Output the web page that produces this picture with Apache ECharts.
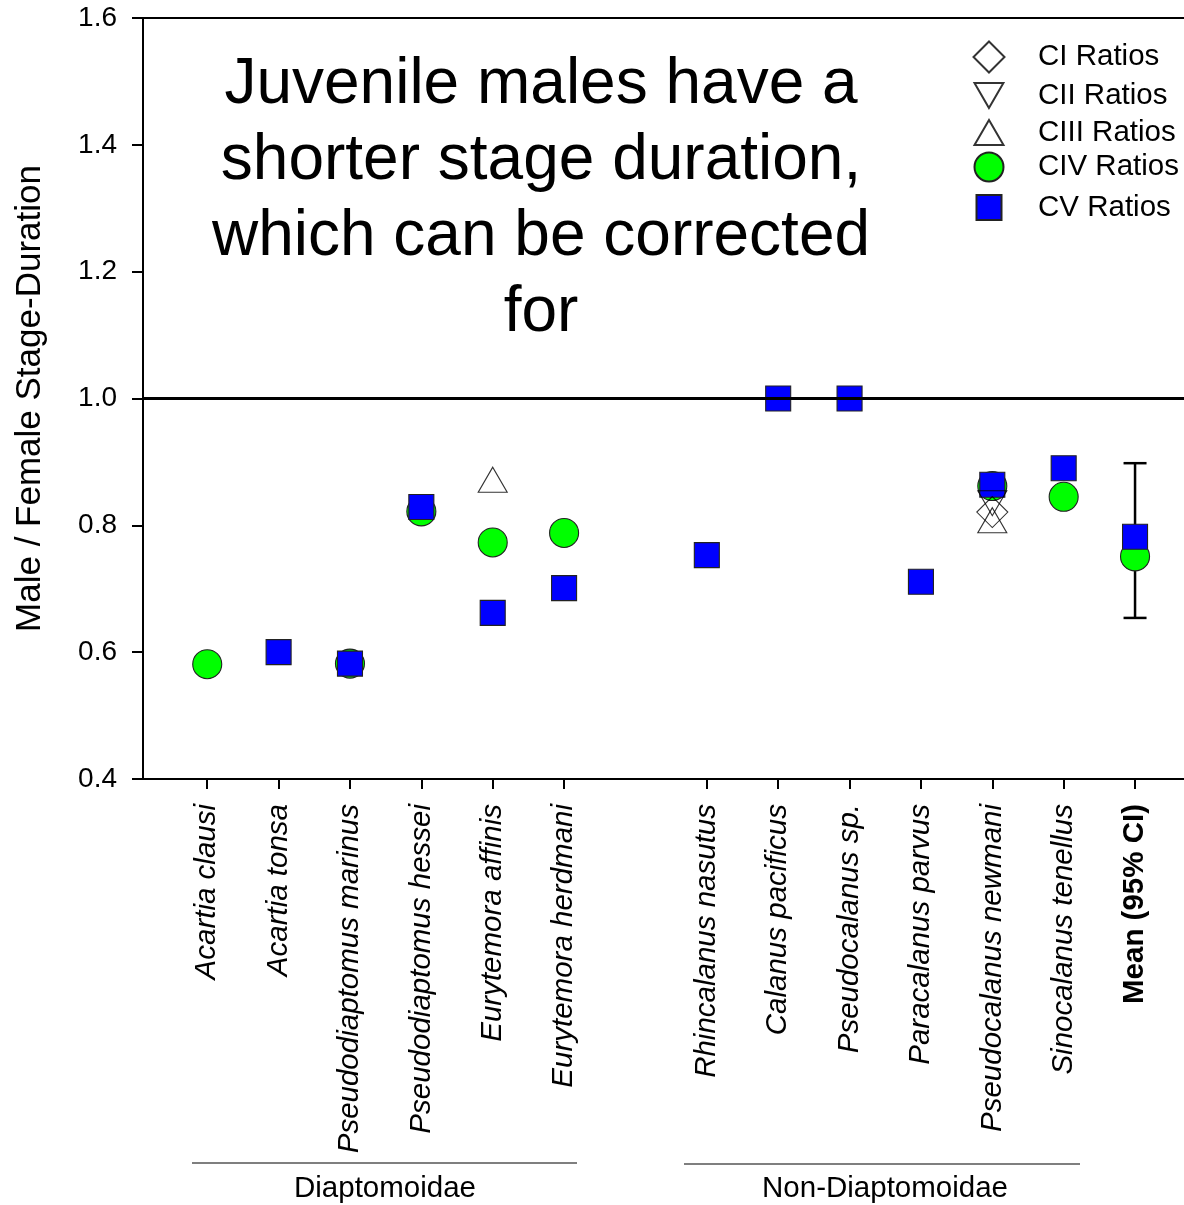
<!DOCTYPE html>
<html>
<head>
<meta charset="utf-8">
<script src="https://cdn.jsdelivr.net/npm/echarts@6/dist/echarts.min.js"></script>
<style>
html,body{margin:0;padding:0;background:#fff;}
#chart{width:1184px;height:1205px;}
</style>
</head>
<body>
<div id="chart"></div>
<script>
// ---------- data ----------
var categories = ['Acartia clausi','Acartia tonsa','Pseudodiaptomus marinus','Pseudodiaptomus hessei','Eurytemora affinis','Eurytemora herdmani','',
  'Rhincalanus nasutus','Calanus pacificus','Pseudocalanus sp.','Paracalanus parvus','Pseudocalanus newmani','Sinocalanus tenellus','Mean (95% CI)'];
var ciRatios   = [null,null,null,null,null,null,null, null,null,null,null,0.821,null,null];
var ciiRatios  = [null,null,null,null,null,null,null, null,null,null,null,0.835,null,null];
var ciiiRatios = [null,null,null,null,0.872,null,null, null,null,null,null,0.808,null,null];
var civRatios  = [0.581,null,0.582,0.822,0.773,0.788,null, null,null,null,null,0.862,0.845,0.751];
var cvRatios   = [null,0.600,0.582,0.829,0.662,0.701,null, 0.753,1.000,1.000,0.711,0.864,0.890,0.782];
var meanCI = [0.654, 0.898];
var yTicks = [0.4,0.6,0.8,1.0,1.2,1.4,1.6];
var referenceLine = 1.0;
var groups = ['Diaptomoidae','Non-Diaptomoidae'];
var titleLines = ['Juvenile males have a','shorter stage duration,','which can be corrected','for'];
var yTitle = 'Male / Female Stage-Duration';
var legendNames = ['CI Ratios','CII Ratios','CIII Ratios','CIV Ratios','CV Ratios'];

// ---------- helpers ----------
var FONT = 'Liberation Sans, Arial, Helvetica, sans-serif';
function pts(arr){
  var out = [];
  arr.forEach(function(v,i){ if(v!==null) out.push([i+1, v]); });
  return out;
}
var catPositions = [];
categories.forEach(function(c,i){ if(c!=='') catPositions.push(i+1); });
var meanPos = categories.length;

var chart = echarts.init(document.getElementById('chart'), null, {renderer:'canvas'});

var DOWN_TRI = 'path://M0,0 L20,0 L10,17.3 Z';
var symbolDefs = {
  'CI Ratios':   {symbol:'diamond',  size:[31,31], hollow:true},
  'CII Ratios':  {symbol:DOWN_TRI,   size:[29,25], hollow:true},
  'CIII Ratios': {symbol:'triangle', size:[29,25], hollow:true},
  'CIV Ratios':  {symbol:'circle',   size:[29,29], color:'#00ff00'},
  'CV Ratios':   {symbol:'rect',     size:[25,25], color:'#0000ff'}
};
var legendRowsY = [56,93,130,166,205];

function scatterSeries(name, arr){
  var d = symbolDefs[name];
  return {
    name:name, type:'scatter', data:pts(arr),
    symbol:d.symbol, symbolSize:d.size, symbolKeepAspect:false,
    itemStyle: d.hollow ? {color:'rgba(0,0,0,0)', borderColor:'#000', borderWidth:1.1}
                        : {color:d.color, borderColor:'#222', borderWidth:1.1, opacity:1},
    emphasis:{disabled:true}, silent:true, animation:false
  };
}

var LEG_FS = 29.5;
var legends = legendNames.map(function(n,i){
  var d = symbolDefs[n];
  var w = d.size[0], h = d.size[1];
  var left = 988 - w/2;
  return {
    data:[{name:n, icon:d.symbol}], orient:'vertical', left:left, top:legendRowsY[i]-h/2,
    itemWidth:w, itemHeight:h, itemGap:0, padding:0, selectedMode:false,
    textStyle:{fontSize:LEG_FS, fontFamily:FONT, color:'#000', padding:[0,0,0,1037-(left+w+5)]}
  };
});

var axisLineStyle = {color:'#000', width:2};

var option = {
  backgroundColor:'#fff',
  animation:false,
  legend: legends,
  grid:{left:143, top:18, right:-1, bottom:426, show:false, outerBoundsMode:'none', containLabel:false},
  xAxis:[{
    type:'value', min:0.1, max:14.7,
    splitLine:{show:false},
    axisLine:{show:true, onZero:false, lineStyle:axisLineStyle},
    axisTick:{show:true, customValues:catPositions, length:10, lineStyle:axisLineStyle},
    axisLabel:{
      show:true, customValues:catPositions, rotate:90, margin:25,
      fontSize:29.5, fontFamily:FONT, fontStyle:'italic', color:'#000',
      formatter:function(v){
        var name = categories[Math.round(v)-1];
        if(Math.round(v)===meanPos) return '{b|' + name + '}';
        return name;
      },
      rich:{b:{fontSize:29.5, fontFamily:FONT, fontWeight:'bold', fontStyle:'normal', color:'#000'}}
    }
  },{
    type:'value', position:'top', min:0.1, max:14.7,
    splitLine:{show:false},
    axisLine:{show:true, onZero:false, lineStyle:axisLineStyle},
    axisTick:{show:false}, axisLabel:{show:false}
  }],
  yAxis:{
    type:'value', min:0.4, max:1.6, interval:0.2,
    name:yTitle, nameLocation:'middle', nameRotate:90, nameGap:95,
    nameTextStyle:{fontSize:35, fontFamily:FONT, color:'#000'},
    splitLine:{show:false},
    axisLine:{show:true, onZero:false, lineStyle:axisLineStyle},
    axisTick:{show:true, length:11, lineStyle:axisLineStyle},
    axisLabel:{fontSize:28, fontFamily:FONT, color:'#000', margin:26,
      formatter:function(v){ return v.toFixed(1); }}
  },
  series:[
    {
      name:'Mean CI', type:'custom', silent:true, animation:false,
      data:[[meanPos, meanCI[0], meanCI[1]]],
      renderItem:function(params, api){
        var x = api.value(0);
        var lo = api.coord([x, api.value(1)]);
        var hi = api.coord([x, api.value(2)]);
        var hw = 11.5;
        var st = {stroke:'#000', lineWidth:2.5};
        return {type:'group', children:[
          {type:'line', shape:{x1:lo[0], y1:lo[1], x2:hi[0], y2:hi[1]}, style:st},
          {type:'line', shape:{x1:lo[0]-hw, y1:lo[1], x2:lo[0]+hw, y2:lo[1]}, style:st},
          {type:'line', shape:{x1:hi[0]-hw, y1:hi[1], x2:hi[0]+hw, y2:hi[1]}, style:st}
        ]};
      }
    },
    scatterSeries('CIV Ratios', civRatios),
    scatterSeries('CV Ratios', cvRatios),
    scatterSeries('CI Ratios', ciRatios),
    scatterSeries('CII Ratios', ciiRatios),
    scatterSeries('CIII Ratios', ciiiRatios),
    {
      name:'ref', type:'line', data:[], silent:true, z:5,
      markLine:{silent:true, symbol:['none','none'], label:{show:false},
        lineStyle:{color:'#000', width:3, type:'solid'},
        emphasis:{disabled:true},
        data:[{yAxis:referenceLine}]}
    }
  ],
  graphic:[
    {type:'text', silent:true, z:10,
      style:{x:541, y:47, text:titleLines.join('\n'), fill:'#000', font:'64px ' + FONT,
        align:'center', verticalAlign:'top', lineHeight:76}},
    {type:'line', shape:{x1:192, y1:1163, x2:577, y2:1163}, style:{stroke:'#000', lineWidth:1.2}},
    {type:'line', shape:{x1:684, y1:1164, x2:1080, y2:1164}, style:{stroke:'#000', lineWidth:1.2}},
    {type:'text', style:{x:385, y:1189, text:groups[0], fill:'#000', font:'29.5px ' + FONT, align:'center', verticalAlign:'middle'}},
    {type:'text', style:{x:885, y:1189, text:groups[1], fill:'#000', font:'29.5px ' + FONT, align:'center', verticalAlign:'middle'}}
  ]
};
chart.setOption(option);
</script>
</body>
</html>
